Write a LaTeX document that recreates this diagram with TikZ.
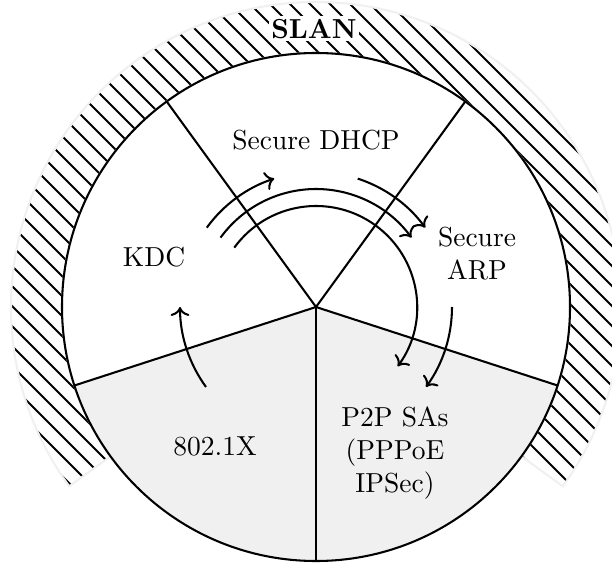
\documentclass[tikz,border=0pt]{standalone}
\usetikzlibrary{arrows.meta}
\begin{document}
\begin{tikzpicture}[x=0.3636pt,y=0.3636pt,
  line width=0.75pt,
  sector/.style={fill=gray!12},
  spoke/.style={draw=black,line width=0.75pt},
  bandedge/.style={draw=gray!12,line width=0.75pt},
  hatch/.style={line width=0.7pt},
  flow/.style={->,line width=0.75pt},
  lbl/.style={font=\normalsize,align=center,inner sep=1pt}]
\useasboundingbox (-316,-255) rectangle (296,307);
\clip (-316,-255) rectangle (296,307);
% grey sectors
\fill[sector] (0,0) -- (198:254) arc[start angle=198,end angle=342,radius=254] -- cycle;
% hatched band
\begin{scope}
\clip (216:305) arc[start angle=216,end angle=-36,radius=305] -- (-36:254) arc[start angle=-36,end angle=216,radius=254] -- cycle;
\foreach \k in {-23,...,23} \draw[hatch] ({20*\k-3-400},400) -- ({20*\k-3+400},-400);
\end{scope}
\draw[bandedge] (216:305) arc[start angle=216,end angle=-36,radius=305] -- (-36:254) arc[start angle=-36,end angle=216,radius=254] -- cycle;
% centre and spokes
\coordinate (c) at (0,0);
\coordinate (s1) at (54:254);
\coordinate (s2) at (126:254);
\coordinate (s3) at (198:254);
\coordinate (s4) at (270:254);
\coordinate (s5) at (342:254);
\foreach \s in {s1,s2,s3,s4,s5} \draw[spoke] (c) -- (\s);
\draw (c) circle[radius=254];
% arrows
\coordinate (a1) at (144:135);
\coordinate (a2) at (144:118);
\coordinate (a3) at (144:101);
\coordinate (a4) at (72:135);
\coordinate (a5) at (0:136);
\coordinate (a6) at (216:136);
\draw[flow] (a1) arc[start angle=144,end angle=108,radius=135];
\draw[flow] (a2) arc[start angle=144,end angle=36,radius=118];
\draw[flow] (a3) arc[start angle=144,end angle=-36,radius=101];
\draw[flow] (a4) arc[start angle=72,end angle=36,radius=135];
\draw[flow] (a5) arc[start angle=0,end angle=-36,radius=136];
\draw[flow] (a6) arc[start angle=216,end angle=180,radius=136];
% labels
\node[lbl,fill=white,font=\bfseries] (slan) at (-2,278) {SLAN};
\node[lbl] (dhcp) at (0,167) {Secure DHCP};
\node[lbl] (kdc) at (-162,50) {KDC};
\node[lbl] (arp) at (161,53) {Secure\\ARP};
\node[lbl] (dot1x) at (-101,-139) {802.1X};
\node[lbl] (p2p) at (79,-146) {P2P SAs\\(PPPoE\\IPSec)};
\end{tikzpicture}
\end{document}
